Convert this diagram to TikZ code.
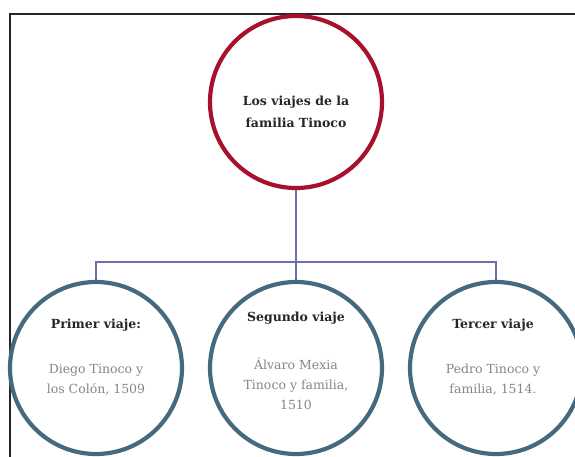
\documentclass[tikz,border=0pt]{standalone}
\usepackage{fontspec}
\setmainfont{DejaVu Serif}
\definecolor{topred}{HTML}{A8112E}
\definecolor{ringblue}{HTML}{45697F}
\definecolor{connc}{HTML}{7070A8}
\definecolor{bodygray}{HTML}{858585}
\definecolor{titlek}{HTML}{262626}
\begin{document}
\begin{tikzpicture}[x=1pt,y=-1pt,
  ring/.style={circle,draw,line width=4.2pt,minimum size=172pt,inner sep=0pt},
  topring/.style={ring,draw=topred},
  subring/.style={ring,draw=ringblue},
  conn/.style={draw=connc,line width=1.3pt},
  ttl/.style={font=\fontsize{12.5}{22}\selectfont\bfseries,text=titlek,align=center},
  bdy/.style={font=\fontsize{12.5}{20}\selectfont,text=bodygray,align=center}]
\useasboundingbox (0,0) rectangle (575,457);
\clip (0,0) rectangle (575,457);
\draw[line width=1.3pt,black!85] (10,457) -- (10,14) -- (575,14);
% circles
\node[topring] (top) at (296,102) {};
\node[subring] (c1) at (96,368) {};
\node[subring] (c2) at (296,368) {};
\node[subring] (c3) at (496,368) {};
% connectors
\coordinate (j) at (296,262);
\draw[conn] (top.south) -- (j);
\draw[conn] (j) -| (c1.north);
\draw[conn] (j) -- (c2.north);
\draw[conn] (j) -| (c3.north);
% texts
\node[ttl] (tt) at (296,112) {Los viajes de la\\familia Tinoco};
\node[ttl] (t1) at (96,325) {Primer viaje:};
\node[bdy] (b1) at (96,380) {Diego Tinoco y\\los Colón, 1509};
\node[ttl] (t2) at (296,318) {Segundo viaje};
\node[bdy] (b2) at (296,384) {Álvaro Mexia\\Tinoco y familia,\\1510};
\node[ttl] (t3) at (493,325) {Tercer viaje};
\node[bdy] (b3) at (493,380) {Pedro Tinoco y\\familia, 1514.};
\end{tikzpicture}
\end{document}
